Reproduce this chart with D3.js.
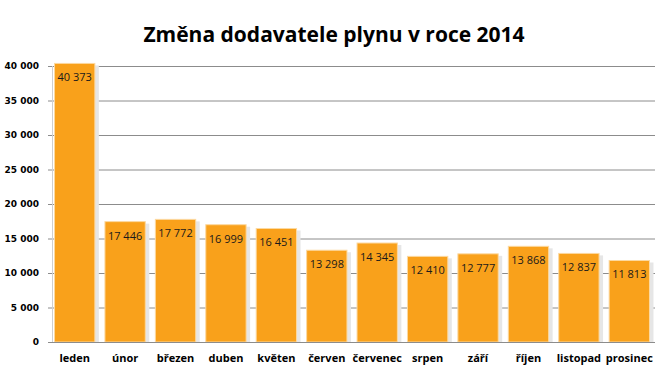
<!DOCTYPE html>
<html>
<head>
<meta charset="utf-8">
<script src="https://cdn.jsdelivr.net/npm/d3@7"></script>
<style>
  body { margin: 0; background: #fff; }
  svg { display: block; }
</style>
</head>
<body>
<svg id="chart" width="660" height="370"></svg>
<script>
let months = ['leden', 'únor', 'březen', 'duben', 'květen', 'červen', 'červenec', 'srpen', 'září', 'říjen', 'listopad', 'prosinec'];
let counts = [40373, 17446, 17772, 16999, 16451, 13298, 14345, 12410, 12777, 13868, 12837, 11813];
let yTicks = [0, 5000, 10000, 15000, 20000, 25000, 30000, 35000, 40000];

let data = months.map((m, i) => ({ month: m, value: counts[i] }));

let svg = d3.select('#chart');
let margin = { top: 66, right: 5, bottom: 28, left: 52 };
let width = 660, height = 370;

let cz = d3.formatLocale({ decimal: ',', thousands: '\u00a0', grouping: [3], currency: ['', ' Kč'] });
let fmt = cz.format(',d');

let x = d3.scaleBand()
  .domain(months)
  .range([margin.left, 652])
  .paddingInner(0.2)
  .paddingOuter(0.05);

let y = d3.scaleLinear()
  .domain([0, 40000])
  .range([height - margin.bottom, margin.top]);

// title
svg.append('text')
  .attr('x', 334)
  .attr('y', 42)
  .attr('text-anchor', 'middle')
  .style('font-family', 'Open Sans, sans-serif')
  .style('font-weight', 'bold')
  .style('font-size', '21px')
  .attr('fill', '#000')
  .text('Změna dodavatele plynu v roce 2014');

// grid lines
let yAxis = d3.axisLeft(y)
  .tickValues(yTicks)
  .tickSize(-(width - margin.left - margin.right))
  .tickPadding(13)
  .tickFormat(fmt);

let gy = svg.append('g')
  .attr('transform', `translate(${margin.left},0)`)
  .call(yAxis);
gy.select('.domain').remove();
gy.selectAll('.tick line')
  .attr('x1', -4)
  .attr('stroke', '#8c8c8c')
  .attr('stroke-width', 1);
gy.selectAll('.tick text')
  .style('font-family', 'DejaVu Sans, sans-serif')
  .style('font-weight', 'bold')
  .style('font-size', '9px')
  .attr('fill', '#000');

// vertical axis line
svg.append('line')
  .attr('x1', margin.left + 0.5).attr('x2', margin.left + 0.5)
  .attr('y1', y(40000)).attr('y2', y(0))
  .attr('stroke', '#d0d0d0');

// bar shadows
svg.append('g')
  .selectAll('rect')
  .data(data)
  .enter()
  .append('rect')
  .attr('x', d => x(d.month) + 2)
  .attr('y', d => y(d.value) + 2)
  .attr('width', x.bandwidth() + 2)
  .attr('height', d => y(0) - y(d.value) - 2)
  .attr('fill', '#e6e6e6');

// bars
svg.append('g')
  .selectAll('rect')
  .data(data)
  .enter()
  .append('rect')
  .attr('x', d => x(d.month))
  .attr('y', d => y(d.value))
  .attr('width', x.bandwidth())
  .attr('height', d => y(0) - y(d.value))
  .attr('fill', '#f9a11b')
  .attr('stroke', '#fcd9a0')
  .attr('stroke-width', 1);

// baseline
svg.append('line')
  .attr('x1', margin.left - 4).attr('x2', width - margin.right)
  .attr('y1', y(0) + 0.5).attr('y2', y(0) + 0.5)
  .attr('stroke', '#8c8c8c');

// value labels
svg.append('g')
  .selectAll('text')
  .data(data)
  .enter()
  .append('text')
  .attr('x', d => x(d.month) + x.bandwidth() / 2)
  .attr('y', d => y(d.value) + 18)
  .attr('text-anchor', 'middle')
  .style('font-family', 'Open Sans, sans-serif')
  .style('font-size', '11px')
  .attr('fill', '#1a1a1a')
  .text(d => fmt(d.value));

// month labels
svg.append('g')
  .selectAll('text')
  .data(data)
  .enter()
  .append('text')
  .attr('x', d => x(d.month) + x.bandwidth() / 2)
  .attr('y', 362)
  .attr('text-anchor', 'middle')
  .style('font-family', 'Open Sans, sans-serif')
  .style('font-weight', 'bold')
  .style('font-size', '11px')
  .attr('fill', '#000')
  .text(d => d.month);
</script>
</body>
</html>
